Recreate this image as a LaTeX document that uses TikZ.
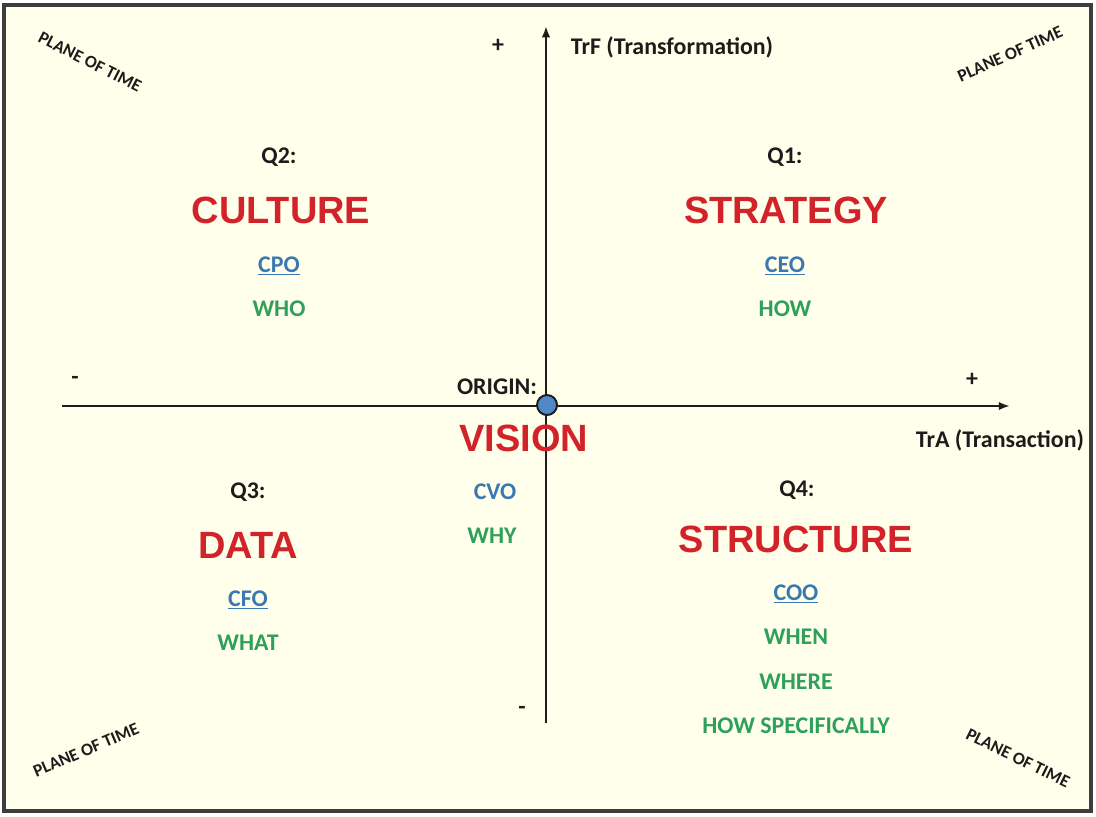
\documentclass[tikz,border=0pt]{standalone}
\usepackage{fontspec}
\setmainfont{Carlito}
\newfontfamily\arialfont{Liberation Sans}
\usetikzlibrary{arrows.meta}
\definecolor{paper}{HTML}{FFFFEB}
\definecolor{qred}{HTML}{D2232A}
\definecolor{qblue}{HTML}{3A78B0}
\definecolor{qgreen}{HTML}{2EA05A}
\definecolor{ink}{HTML}{1C1C1C}
\definecolor{dotblue}{HTML}{5089C8}

\begin{document}
\begin{tikzpicture}[x=0.025cm, y=-0.025cm,
    lbl/.style={font=\bfseries\fontsize{17}{19}\selectfont, text=ink},
    small/.style={font=\bfseries\fontsize{17}{19}\selectfont, text=ink},
    big/.style={font=\arialfont\bfseries\fontsize{27}{31}\selectfont, text=qred},
    role/.style={font=\bfseries\fontsize{17}{19}\selectfont, text=qblue},
    ask/.style={font=\bfseries\fontsize{17}{19}\selectfont, text=qgreen},
    plane/.style={font=\bfseries\fontsize{12.5}{14}\selectfont, text=ink},
    axis/.style={line width=1.8pt, draw=ink, -{Latex[length=8pt, width=6pt]}}]
    \useasboundingbox (0,0) rectangle (1096,816);
    % frame
    \draw[line width=2.2pt, draw=ink!85, fill=paper] (4,5) rectangle (1091,811);

    % axes
    \coordinate (xl) at (62,406);
    \coordinate (xr) at (1010,406);
    \coordinate (yb) at (546,723);
    \coordinate (yt) at (546,26);
    \draw[axis] (xl) -- (xr);
    \draw[axis] (yb) -- (yt);
    \node[circle, minimum size=20*0.025cm, inner sep=0pt, fill=dotblue, draw=ink, line width=1.4pt] (origin) at (547,405) {};

    % axis labels
    \node[small, anchor=west] (trf) at (566,47) {TrF (Transformation)};
    \node[small, anchor=east] (tra) at (1089,440) {TrA (Transaction)};
    \node[small] (yplus) at (498,46) {+};
    \node[small] (xplus) at (972,380) {+};
    \node[small] (xminus) at (75,380) {-};
    \node[small] (yminus) at (522,710) {-};

    % centre
    \node[lbl] (orig) at (497,387) {ORIGIN:};
    \node[big] (vision) at (524,438) {VISION};
    \node[role] (cvo) at (495,492) {CVO};
    \node[ask] (why) at (492,536) {WHY};

    % quadrants
    \node[lbl] (q1) at (785,157) {Q1:};
    \node[big] (strategy) at (786,210) {STRATEGY};
    \node[role] (ceo) at (785,266) {\underline{CEO}};
    \node[ask] (how) at (785,309) {HOW};

    \node[lbl] (q2) at (279,157) {Q2:};
    \node[big] (culture) at (281,210) {CULTURE};
    \node[role] (cpo) at (279,266) {\underline{CPO}};
    \node[ask] (who) at (279,309) {WHO};

    \node[lbl] (q3) at (248,492) {Q3:};
    \node[big] (data) at (248,545) {DATA};
    \node[role] (cfo) at (248,600) {\underline{CFO}};
    \node[ask] (what) at (248,643) {WHAT};

    \node[lbl] (q4) at (797,490) {Q4:};
    \node[big] (structure) at (796,539) {STRUCTURE};
    \node[role] (coo) at (796,594) {\underline{COO}};
    \node[ask] (when) at (796,637) {WHEN};
    \node[ask] (where) at (796,682) {WHERE};
    \node[ask] (howspec) at (796,726) {HOW SPECIFICALLY};

    % planes of time
    \foreach \n/\px/\py/\ang in {tl/90/62/-27, tr/1010/54/24, bl/86/750/23, br/1018/758/-26} {
        \node[plane, rotate=\ang] (plane\n) at (\px,\py) {PLANE OF TIME};
    }
\end{tikzpicture}
\end{document}
